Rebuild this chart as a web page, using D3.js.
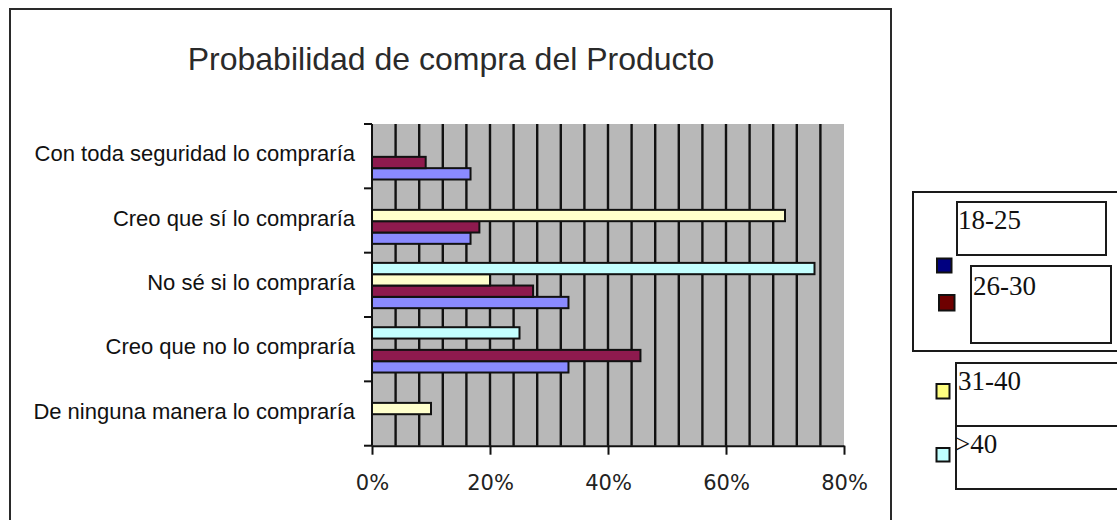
<!DOCTYPE html>
<html>
<head>
<meta charset="utf-8">
<script src="https://cdn.jsdelivr.net/npm/d3@7"></script>
<style>
  html, body { margin: 0; padding: 0; background: #fff; }
  svg { display: block; }
</style>
</head>
<body>
<svg id="chart" width="1117" height="520"></svg>
<script>
// ---- data ----
const title = "Probabilidad de compra del Producto";
const categories = [
  "Con toda seguridad lo compraría",
  "Creo que sí lo compraría",
  "No sé si lo compraría",
  "Creo que no lo compraría",
  "De ninguna manera lo compraría"
];
const seriesNames = ["18-25", "26-30", "31-40", ">40"];
const values1825 = [16.7, 16.7, 33.3, 33.3, 0];
const values2630 = [9.1, 18.2, 27.3, 45.5, 0];
const values3140 = [0, 70, 20, 0, 10];
const valuesOver40 = [0, 0, 75, 25, 0];
const xTickValues = [0, 20, 40, 60, 80];

// ---- styles ----
const barColors = {"18-25": "#8a8aff", "26-30": "#8e1a4e", "31-40": "#ffffcc", ">40": "#c4ffff"};
const swatchColors = {"18-25": "#000080", "26-30": "#6e0000", "31-40": "#ffff80", ">40": "#c0ffff"};

const svg = d3.select("#chart");

// outer chart frame
svg.append("rect").attr("x", 10).attr("y", 9).attr("width", 881).attr("height", 600)
  .attr("fill", "#fff").attr("stroke", "#2a2a2a").attr("stroke-width", 2);

// title
svg.append("text").attr("x", 451).attr("y", 70).attr("text-anchor", "middle")
  .attr("font-family", "Liberation Sans, Arial, sans-serif").attr("font-size", 32)
  .attr("fill", "#2a2a2a").text(title);

// scales
const x = d3.scaleLinear().domain([0, 80]).range([372, 844]);
const y = d3.scaleBand().domain(categories).range([124, 445.7]);
const bw = y.bandwidth();
const ys = d3.scaleBand().domain([">40", "31-40", "26-30", "18-25"])
  .range([bw * 0.1585, bw * 0.8626]);

// plot area
svg.append("rect").attr("x", x(0)).attr("y", 124).attr("width", x(80) - x(0))
  .attr("height", 445.7 - 124).attr("fill", "#b8b8b8");

// gridlines every 4%
const gridVals = d3.range(4, 80, 4);
svg.append("g").selectAll("line").data(gridVals).join("line")
  .attr("x1", d => x(d)).attr("x2", d => x(d))
  .attr("y1", 124).attr("y2", 445.7)
  .attr("stroke", "#111").attr("stroke-width", 2.4);

// bars
const seriesData = [
  {name: "18-25", vals: values1825},
  {name: "26-30", vals: values2630},
  {name: "31-40", vals: values3140},
  {name: ">40", vals: valuesOver40}
];
const bars = [];
seriesData.forEach(s => s.vals.forEach((v, i) => {
  if (v > 0) bars.push({series: s.name, cat: categories[i], value: v});
}));
svg.append("g").selectAll("rect").data(bars).join("rect")
  .attr("x", x(0))
  .attr("y", d => y(d.cat) + ys(d.series))
  .attr("width", d => x(d.value) - x(0))
  .attr("height", ys.bandwidth())
  .attr("fill", d => barColors[d.series])
  .attr("stroke", "#111").attr("stroke-width", 2);

// bottom axis
const xAxis = svg.append("g").attr("transform", "translate(0,445.7)")
  .call(d3.axisBottom(x).tickValues(xTickValues).tickFormat(d => d + "%")
    .tickSize(9).tickSizeOuter(0).tickPadding(20));
xAxis.select(".domain").attr("stroke", "#111").attr("stroke-width", 2);
xAxis.selectAll(".tick line").attr("stroke", "#111").attr("stroke-width", 2);
xAxis.selectAll("text").attr("font-family", "DejaVu Sans, sans-serif")
  .attr("font-size", 21).attr("fill", "#222");

// left axis (labels)
const yAxis = svg.append("g").attr("transform", "translate(372,0)")
  .call(d3.axisLeft(y).tickSize(0).tickPadding(17));
yAxis.select(".domain").remove();
yAxis.selectAll("text").attr("font-family", "Liberation Sans, Arial, sans-serif")
  .attr("font-size", 22).attr("fill", "#111").attr("dy", "0.24em");

// left axis line + boundary ticks
const bounds = categories.map(c => y(c)).concat([y.range()[1]]);
svg.append("line").attr("x1", 372).attr("x2", 372).attr("y1", 124).attr("y2", 445.7)
  .attr("stroke", "#111").attr("stroke-width", 2);
svg.append("g").selectAll("line").data(bounds).join("line")
  .attr("x1", 364).attr("x2", 372).attr("y1", d => d).attr("y2", d => d)
  .attr("stroke", "#111").attr("stroke-width", 2);

// ---- legend (broken-layout boxes as in the original) ----
const lg = svg.append("g").attr("stroke", "#1a1a1a").attr("stroke-width", 2).attr("fill", "#fff");
lg.append("rect").attr("x", 913).attr("y", 192).attr("width", 230).attr("height", 159);
const legendBoxes = [
  {x: 957, y: 202, w: 149, h: 53},
  {x: 971, y: 266, w: 140, h: 77},
  {x: 956, y: 363, w: 190, h: 63},
  {x: 956, y: 426, w: 190, h: 63}
];
lg.selectAll("rect.box").data(legendBoxes).join("rect").attr("class", "box")
  .attr("x", d => d.x).attr("y", d => d.y).attr("width", d => d.w).attr("height", d => d.h);

const legendItems = [
  {name: "18-25", sx: 937, sy: 258.5, sw: 14.5, sh: 14, tx: 958, ty: 228.5},
  {name: "26-30", sx: 939, sy: 295, sw: 15.5, sh: 15.5, tx: 973, ty: 294.5},
  {name: "31-40", sx: 936.5, sy: 384, sw: 13, sh: 14.5, tx: 958, ty: 390},
  {name: ">40", sx: 936.5, sy: 448, sw: 13, sh: 13.5, tx: 955, ty: 453}
];
svg.append("g").selectAll("rect").data(legendItems).join("rect")
  .attr("x", d => d.sx).attr("y", d => d.sy).attr("width", d => d.sw).attr("height", d => d.sh)
  .attr("fill", d => swatchColors[d.name]).attr("stroke", "#111").attr("stroke-width", 2);
svg.append("g").selectAll("text").data(legendItems).join("text")
  .attr("x", d => d.tx).attr("y", d => d.ty)
  .attr("font-family", "Liberation Serif, Times New Roman, serif").attr("font-size", 27)
  .attr("fill", "#111").text(d => d.name);
</script>
</body>
</html>
